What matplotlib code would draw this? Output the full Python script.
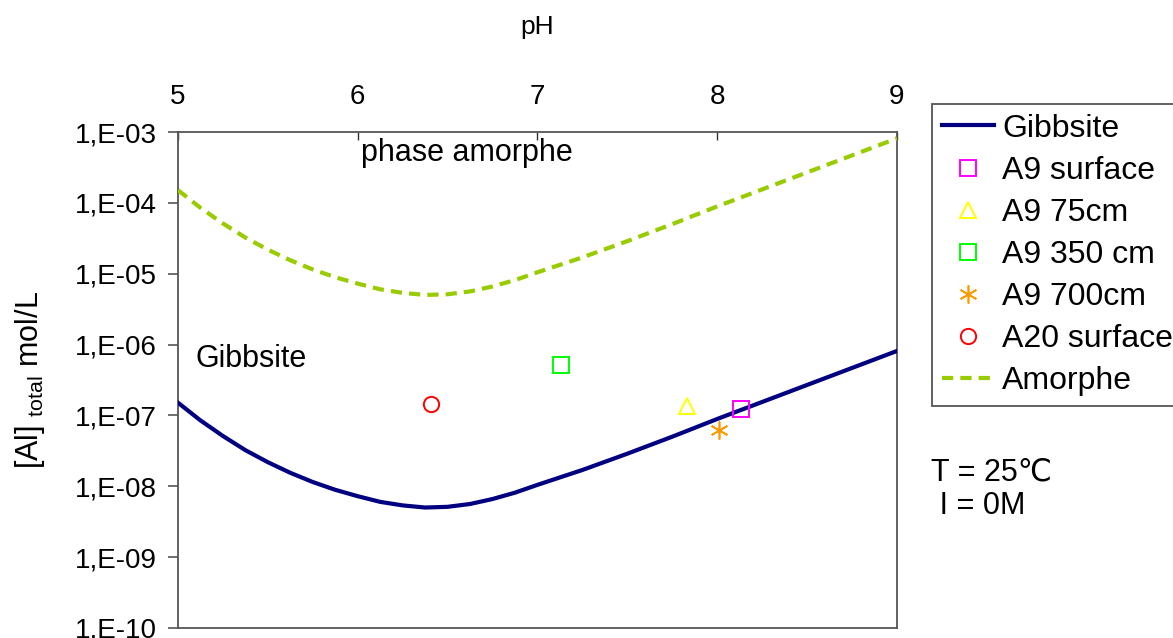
import matplotlib.pyplot as plt
import numpy as np

plt.rcParams.update({
    'font.family': ['Liberation Sans', 'DejaVu Sans'],
    'font.size': 20,
    'mathtext.fontset': 'custom',
    'mathtext.rm': 'Liberation Sans',
    'mathtext.it': 'Liberation Sans',
})

# curves (log10 of [Al] total, mol/L)
ph_curve = [5.0, 5.125, 5.25, 5.375, 5.5, 5.625, 5.75, 5.875, 6.0, 6.125, 6.25,
            6.375, 6.5, 6.625, 6.75, 6.875, 7.0, 7.25, 7.5, 7.75, 8.0, 8.25,
            8.5, 8.75, 9.0]
log_gibbsite = [-6.82, -7.07, -7.29, -7.49, -7.66, -7.81, -7.94, -8.05, -8.14,
                -8.22, -8.27, -8.30, -8.29, -8.25, -8.18, -8.09, -7.98, -7.77,
                -7.54, -7.30, -7.05, -6.81, -6.57, -6.33, -6.09]
log_amorphe = [-3.82, -4.07, -4.29, -4.49, -4.66, -4.81, -4.94, -5.05, -5.14,
               -5.22, -5.27, -5.30, -5.29, -5.25, -5.18, -5.09, -4.98, -4.77,
               -4.54, -4.30, -4.05, -3.81, -3.57, -3.33, -3.09]

# samples
samples = ['A9 surface', 'A9 75cm', 'A9 350 cm', 'A9 700cm', 'A20 surface']
sample_ph = [8.13, 7.83, 7.13, 8.01, 6.41]
sample_log = [-6.91, -6.87, -6.29, -7.21, -6.84]
sample_marker = ['s', '^', 's', 'x', 'o']
sample_color = ['#FF00FF', '#FFFF00', '#00FF00', '#FF9900', '#FF0000']

y_ticks = [1e-3, 1e-4, 1e-5, 1e-6, 1e-7, 1e-8, 1e-9, 1e-10]
y_labels = ['1,E-03', '1,E-04', '1,E-05', '1,E-06', '1,E-07', '1,E-08', '1,E-09', '1,E-10']

fig = plt.figure(figsize=(11.73, 6.38), dpi=100)
ax = fig.add_axes([0.1517, 0.0157, 0.613, 0.7774])

ax.plot(ph_curve, 10 ** np.array(log_gibbsite), color='#000080', lw=3.0,
        label='Gibbsite', zorder=3, solid_joinstyle='round')

for name, px, py, m, c in zip(samples, sample_ph, sample_log, sample_marker, sample_color):
    if m == 'x':
        ax.plot([px], [10 ** py], linestyle='none', marker=(6, 2, 0), markersize=13,
                markeredgecolor=c, markeredgewidth=1.2, label=name, zorder=4)
    else:
        ax.plot([px], [10 ** py], linestyle='none', marker=m, markersize=11,
                markerfacecolor='none', markeredgecolor=c, markeredgewidth=1.4,
                label=name, zorder=4)

ax.plot(ph_curve, 10 ** np.array(log_amorphe), color='#99CC00', lw=3.0,
        dashes=(2.7, 1.7), label='Amorphe', zorder=3)

ax.set_yscale('log')
ax.set_ylim(1e-10, 1e-3)
ax.set_xlim(5, 9)
ax.set_yticks(y_ticks)
ax.set_yticklabels(y_labels)
ax.minorticks_off()
ax.set_xticks([5, 6, 7, 8, 9])
ax.xaxis.tick_top()
ax.xaxis.set_label_position('top')
ax.set_xlabel('pH', labelpad=36, fontsize=19)
ax.set_ylabel(r'[Al] $_{\mathrm{total}}$ mol/L', fontsize=22, labelpad=20)
ax.tick_params(axis='x', direction='in', length=6, width=1, color='#333333',
               pad=16, labelsize=20)
ax.tick_params(axis='y', direction='out', length=7, width=1.2, color='#555555',
               pad=8, labelsize=20)
for s in ax.spines.values():
    s.set_color('#555555')
    s.set_linewidth(1.3)

ax.text(6.61, 10 ** -3.30, 'phase amorphe', ha='center', va='center', fontsize=22)
ax.text(5.1, 10 ** -6.2, 'Gibbsite', ha='left', va='center', fontsize=22)

fig.text(0.794, 0.233, 'T = 25\u2103\n I = 0M', ha='left', va='center', fontsize=22,
         linespacing=1.15)

leg = ax.legend(loc='upper left', bbox_to_anchor=(0.7946, 0.837),
                bbox_transform=fig.transFigure, fontsize=23, frameon=True,
                fancybox=False, edgecolor='#555555', framealpha=1,
                handlelength=1.65, handletextpad=0.25, labelspacing=0.38,
                borderpad=0.3, borderaxespad=0)
leg.get_frame().set_linewidth(1.3)

fig.savefig('out.png', dpi=100)
